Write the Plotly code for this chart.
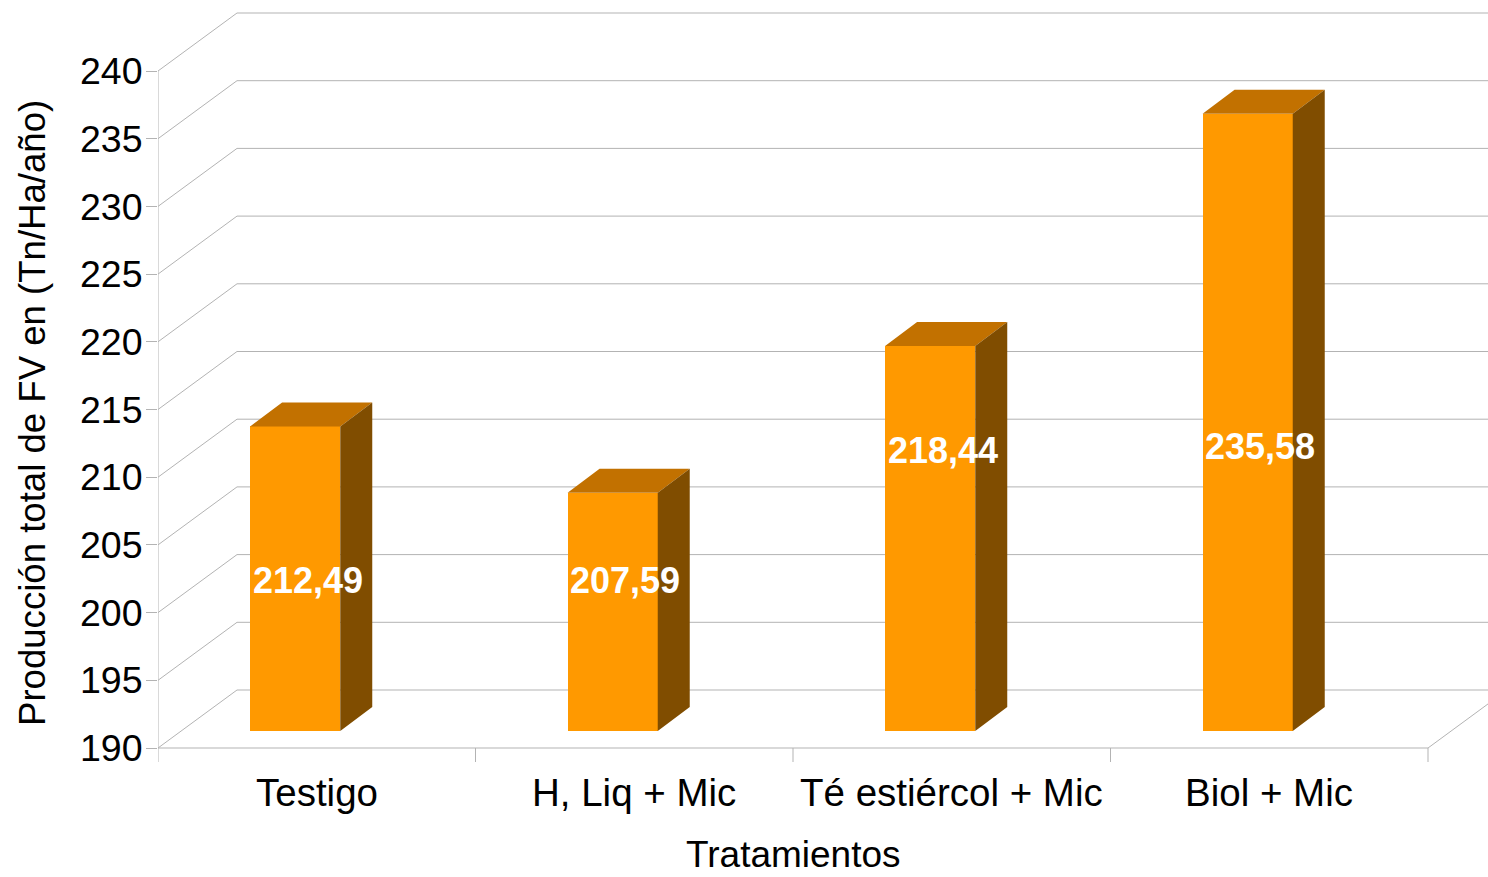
import plotly.graph_objects as go

# Data
categories = ["Testigo", "H, Liq + Mic", "Té estiércol + Mic", "Biol + Mic"]
produccion = [212.49, 207.59, 218.44, 235.58]
value_labels = ["212,49", "207,59", "218,44", "235,58"]
y_ticks = [190, 195, 200, 205, 210, 215, 220, 225, 230, 235, 240]
label_pos = [201.15, 201.15, 210.7, 211.0]  # height of each value label on its bar

# Geometry of the pseudo-3D scene (in axis units)
Y_MIN, Y_MAX = 190, 240
PX_X = 317.5          # pixels per category
PX_Y = 13.54          # pixels per value unit
WALL_DX = 79 / PX_X   # depth offset of the back wall
WALL_DY = 58 / PX_Y
LIFT = 17 / PX_Y      # bars stand a little into the floor depth
BAR_DX = 32 / PX_X    # bar depth
BAR_DY = 24 / PX_Y
BAR_W = 0.284
FACE_SHIFT = -0.068
GRID = "#b3b3b3"
FONT = "Liberation Sans, Arial, sans-serif"

n = len(categories)
x_lo, x_hi = -0.5, n - 0.5

fig = go.Figure()

shapes = []
def seg(x0, y0, x1, y1):
    shapes.append(dict(type="line", xref="x", yref="y", x0=x0, y0=y0, x1=x1, y1=y1,
                       line=dict(color=GRID, width=1), layer="below"))

# side wall diagonals and back wall grid
for v in y_ticks:
    seg(x_lo, v, x_lo + WALL_DX, v + WALL_DY)
    seg(x_lo + WALL_DX, v + WALL_DY, x_hi + WALL_DX, v + WALL_DY)
# floor edges and left edge
seg(x_lo, Y_MIN, x_hi, Y_MIN)
seg(x_hi, Y_MIN, x_hi + WALL_DX, Y_MIN + WALL_DY)
seg(x_lo, Y_MIN, x_lo, Y_MAX)
# category separators below the floor
for k in range(n + 1):
    seg(x_lo + k, Y_MIN, x_lo + k, Y_MIN - 14 / PX_Y)

fig.update_layout(shapes=shapes)

# front faces
xs = [i + FACE_SHIFT for i in range(n)]
fig.add_trace(go.Bar(
    x=xs, y=[v - Y_MIN for v in produccion], base=Y_MIN + LIFT, width=BAR_W,
    marker=dict(color="#ff9900", line=dict(width=0)),
    hovertext=categories, hoverinfo="text+y", showlegend=False,
))

# top and side faces
top_x, top_y, side_x, side_y = [], [], [], []
for x, v in zip(xs, produccion):
    x0, x1 = x - BAR_W / 2, x + BAR_W / 2
    t = v + LIFT
    b = Y_MIN + LIFT
    top_x += [x0, x1, x1 + BAR_DX, x0 + BAR_DX, x0, None]
    top_y += [t, t, t + BAR_DY, t + BAR_DY, t, None]
    side_x += [x1, x1, x1 + BAR_DX, x1 + BAR_DX, x1, None]
    side_y += [b, t, t + BAR_DY, b + BAR_DY, b, None]

fig.add_trace(go.Scatter(x=top_x, y=top_y, fill="toself", fillcolor="#c27100",
                         mode="lines", line=dict(width=0, color="#c27100"),
                         hoverinfo="skip", showlegend=False))
fig.add_trace(go.Scatter(x=side_x, y=side_y, fill="toself", fillcolor="#804d00",
                         mode="lines", line=dict(width=0, color="#804d00"),
                         hoverinfo="skip", showlegend=False))

annotations = []
# value labels
for x, lab, p in zip(xs, value_labels, label_pos):
    annotations.append(dict(x=x + 0.04, y=p + LIFT, xref="x", yref="y", text=f"<b>{lab}</b>",
                            showarrow=False, font=dict(family=FONT, size=36, color="white"),
                            xanchor="center", yanchor="middle"))
# category labels
for i, c in enumerate(categories):
    annotations.append(dict(x=i, y=Y_MIN - 44 / PX_Y, xref="x", yref="y", text=c,
                            showarrow=False, font=dict(family=FONT, size=38.5, color="black"),
                            xanchor="center", yanchor="middle"))
# axis titles
annotations.append(dict(x=(x_lo + x_hi) / 2, y=Y_MIN - 106 / PX_Y, xref="x", yref="y",
                        text="Tratamientos", showarrow=False, borderpad=0,
                        font=dict(family=FONT, size=37, color="black"),
                        xanchor="center", yanchor="middle"))
annotations.append(dict(x=0, xref="paper", xshift=-126, y=Y_MIN + (748 - 413) / PX_Y, yref="y",
                        text="Producción total de FV en (Tn/Ha/año)", textangle=-90,
                        showarrow=False, font=dict(family=FONT, size=36.6, color="black"),
                        xanchor="center", yanchor="middle"))

W, H = 1488, 877
ML = 158
PLOT_BOTTOM = 748
fig.update_layout(
    width=W, height=H,
    margin=dict(l=ML, r=0, t=0, b=0),
    paper_bgcolor="white", plot_bgcolor="white",
    annotations=annotations,
    xaxis=dict(range=[x_lo, x_lo + (W - ML) / PX_X], visible=False, fixedrange=True),
    yaxis=dict(range=[Y_MIN - (H - PLOT_BOTTOM) / PX_Y, Y_MIN + PLOT_BOTTOM / PX_Y],
               tickmode="array", tickvals=y_ticks, ticks="outside", ticklen=11,
               tickcolor=GRID, showgrid=False, zeroline=False, showline=False,
               ticklabelstandoff=-4,
               tickfont=dict(family=FONT, size=37.5, color="black"), fixedrange=True),
    bargap=0,
)

fig.write_html("out.html")
